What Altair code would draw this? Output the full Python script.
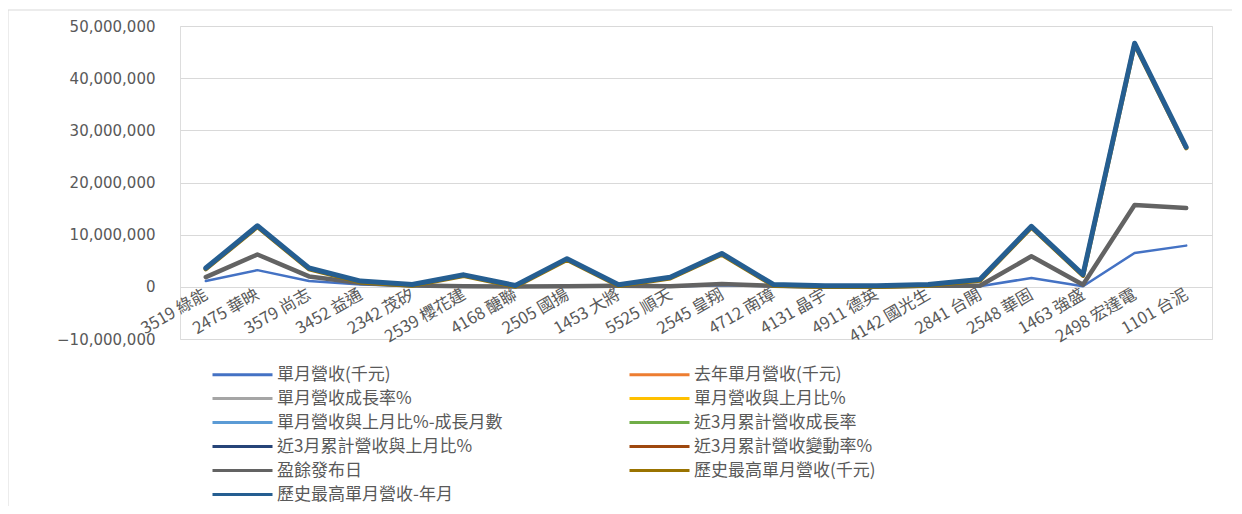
import altair as alt
import pandas as pd

categories = ["3519 綠能", "2475 華映", "3579 尚志", "3452 益通", "2342 茂矽", "2539 櫻花建",
              "4168 醣聯", "2505 國揚", "1453 大將", "5525 順天", "2545 皇翔", "4712 南璋",
              "4131 晶宇", "4911 德英", "4142 國光生", "2841 台開", "2548 華固", "1463 強盛",
              "2498 宏達電", "1101 台泥"]

series = ["單月營收(千元)", "去年單月營收(千元)", "單月營收成長率%", "單月營收與上月比%",
          "單月營收與上月比%-成長月數", "近3月累計營收成長率", "近3月累計營收與上月比%",
          "近3月累計營收變動率%", "盈餘發布日", "歷史最高單月營收(千元)", "歷史最高單月營收-年月"]

colors = ["#4472C4", "#ED7D31", "#A5A5A5", "#FFC000", "#5B9BD5", "#70AD47",
          "#264478", "#9E480E", "#636363", "#997300", "#255E91"]
widths = [2.5, 2.5, 2.5, 2.5, 2.5, 2.5, 2.5, 2.5, 4.5, 4.5, 5]

# values per series (stacked line chart, as in the source)
rev = [1100000, 3200000, 1100000, 450000, 150000, 50000, 30000, 50000, 100000, 50000,
       300000, 100000, 20000, 10000, 100000, 100000, 1700000, 100000, 6500000, 7900000]
rev_ly = [750000, 3000000, 900000, 300000, 100000, 50000, 20000, 50000, 100000, 50000,
          250000, 100000, 10000, 10000, 100000, 100000, 4150000, 300000, 9200000, 7200000]
yoy = [15, 7, 22, -33, 50, 0, 50, 0, 0, 0, 20, 0, 100, 0, 0, 0, -59, -67, -29, 10]
mom = [5, 12, 8, -10, 3, 0, 2, 0, 0, 0, 15, 0, 5, 0, 0, 0, 30, -20, 8, 4]
mom_n = [2, 3, 1, 1, 2, 1, 1, 1, 1, 1, 2, 1, 1, 1, 1, 1, 3, 1, 2, 2]
q3_yoy = [10, 5, 18, -20, 30, 0, 20, 0, 0, 0, 10, 0, 40, 0, 0, 0, -40, -50, -25, 8]
q3_mom = [3, 6, 4, -5, 2, 0, 1, 0, 0, 0, 8, 0, 3, 0, 0, 0, 15, -10, 4, 2]
q3_chg = [2, 4, 3, -4, 1, 0, 1, 0, 0, 0, 5, 0, 2, 0, 0, 0, 10, -8, 3, 1]
eps_day = [0] * 20
hist_max = [1550000, 5300000, 1400000, 150000, 0, 2000000, 0, 5100000, 0, 1550000,
            5650000, 50000, 0, 0, 50000, 1000000, 5550000, 1750000, 30800000, 11500000]
hist_ym = [201011, 200401, 201007, 200803, 200207, 201301, 200912, 201212, 200303, 201109,
           201312, 200510, 200807, 200712, 201102, 201008, 201312, 200903, 201107, 201112]

values = [rev, rev_ly, yoy, mom, mom_n, q3_yoy, q3_mom, q3_chg, eps_day, hist_max, hist_ym]
y_ticks = [-10000000, 0, 10000000, 20000000, 30000000, 40000000, 50000000]

rows = []
for c_i, cat in enumerate(categories):
    cum = 0
    for s_i, s in enumerate(series):
        cum += values[s_i][c_i]
        rows.append({"cat": cat, "series": s, "idx": s_i, "value": values[s_i][c_i], "cum": cum})
df = pd.DataFrame(rows)

FONT_CJK = "Noto Sans CJK TC"
GREY = "#595959"

color_scale = alt.Scale(domain=series, range=colors)

xenc = alt.X("cat:N", sort=categories, scale=alt.Scale(type="point", padding=0.5),
             axis=alt.Axis(title=None, offset=-52, labelAngle=-30, labelAlign="right",
                           labelBaseline="middle", domain=False, ticks=False, grid=False,
                           labelPadding=6, labelFontSize=16.5, labelFont=FONT_CJK,
                           labelColor=GREY, labelOverlap=False))
yenc = alt.Y("cum:Q", scale=alt.Scale(domain=[-10000000, 50000000], nice=False),
             axis=alt.Axis(title=None, values=y_ticks,
                           labelExpr="format(datum.value, ',')",
                           domain=False, ticks=False, gridColor="#d9d9d9",
                           gridWidth=1.2, labelPadding=25, labelFontSize=15,
                           labelFont="DejaVu Sans", labelColor=GREY))
cenc = alt.Color("series:N", scale=color_scale, sort=series,
                 legend=alt.Legend(title=None, orient="none", legendX=53, legendY=339,
                                   direction="horizontal", columns=2,
                                   symbolType="M-3.75,0H3.75", symbolSize=256,
                                   symbolStrokeWidth=3, labelFontSize=17, labelFont=FONT_CJK,
                                   labelColor=GREY, columnPadding=120, rowPadding=6,
                                   labelOffset=25, labelLimit=0))

layers = []
for s_i, s in enumerate(series):
    layers.append(
        alt.Chart(df).transform_filter(alt.datum.series == s)
        .mark_line(strokeWidth=widths[s_i], strokeJoin="round", strokeCap="round")
        .encode(x=xenc, y=yenc, color=cenc)
    )

border = alt.Chart(pd.DataFrame({"a": [0]})).mark_rule(color="#d9d9d9", strokeWidth=1).encode(
    x=alt.value(-172), y=alt.value(-16), y2=alt.value(480))
border_top = alt.Chart(pd.DataFrame({"a": [0]})).mark_rule(color="#d9d9d9", strokeWidth=1).encode(
    x=alt.value(-172), x2=alt.value(1060), y=alt.value(-16))

chart = alt.layer(border, border_top, *layers).properties(
    width=1032, height=313,
    autosize=alt.AutoSizeParams(type="none"),
    padding={"left": 172, "top": 18, "right": 20, "bottom": 167},
).configure_view(stroke=None).configure(background="white")

chart.save("out.html", embed_options={"renderer": "svg", "actions": False})
